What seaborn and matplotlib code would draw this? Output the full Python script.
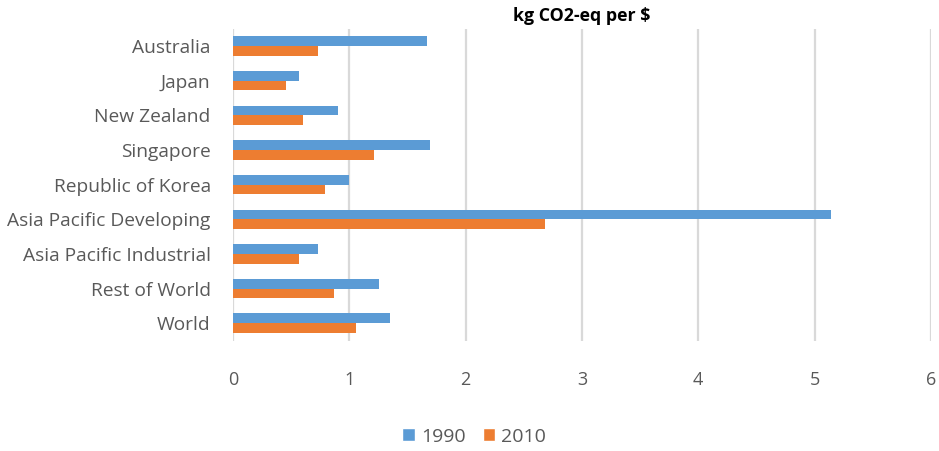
import matplotlib
matplotlib.use("Agg")
import matplotlib.pyplot as plt
import seaborn as sns
import pandas as pd
from matplotlib.patches import Patch

categories = ["Australia", "Japan", "New Zealand", "Singapore", "Republic of Korea",
              "Asia Pacific Developing", "Asia Pacific Industrial", "Rest of World", "World"]
values_1990 = [1.67, 0.57, 0.90, 1.69, 1.00, 5.14, 0.73, 1.26, 1.35]
values_2010 = [0.73, 0.46, 0.60, 1.21, 0.79, 2.68, 0.57, 0.87, 1.06]
series = ["1990", "2010"]
xticks = [0, 1, 2, 3, 4, 5, 6]

df = pd.DataFrame({
    "region": categories * 2,
    "value": values_1990 + values_2010,
    "year": [series[0]] * len(categories) + [series[1]] * len(categories),
})

sns.set_theme(style="white")
plt.rcParams["font.family"] = ["Open Sans", "DejaVu Sans"]

colors = {"1990": "#5B9BD5", "2010": "#ED7D31"}
fig = plt.figure(figsize=(9.39, 4.51), dpi=100)
ax = fig.add_axes([0.248, 0.245, 0.7435, 0.691])

sns.barplot(data=df, y="region", x="value", hue="year", order=categories,
            hue_order=series, palette=colors, width=0.56, orient="h",
            ax=ax, legend=False, saturation=1, linewidth=0)

ax.set_xlim(0, 6)
ax.set_xticks(xticks)
ax.set_xticklabels([str(t) for t in xticks])
ax.set_xlabel("")
ax.set_ylabel("")
for s in ax.spines.values():
    s.set_visible(False)
ax.grid(axis="x", color="#d9d9d9", linewidth=1.6)
ax.set_axisbelow(True)
ax.tick_params(axis="both", length=0, colors="#595959")
ax.tick_params(axis="x", pad=22, labelsize=13)
ax.tick_params(axis="y", pad=16, labelsize=13.8)
ax.set_title("kg CO2-eq per $", fontsize=12.8, fontweight="bold", color="black", pad=6)

handles = [Patch(facecolor=colors[s], label=s) for s in series]
fig.legend(handles=handles, loc="center", bbox_to_anchor=(0.505, 0.032), ncol=2,
           frameon=False, fontsize=14, handlelength=0.65, handleheight=0.65,
           handletextpad=0.3, columnspacing=0.9, labelcolor="#595959")

fig.savefig("out.png", dpi=100)
